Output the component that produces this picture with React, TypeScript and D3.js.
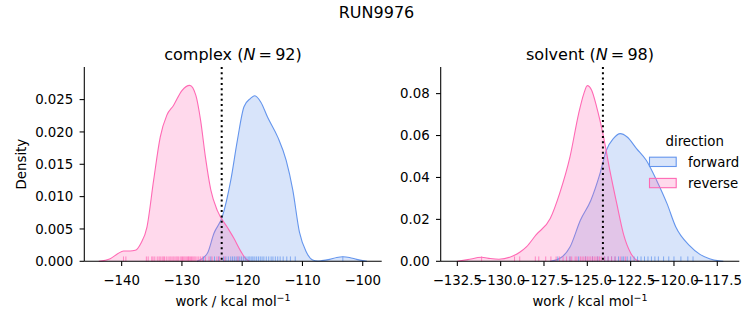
import React from "react";
import * as d3 from "d3";

// ---------- data ----------
const directions = ["forward", "reverse"];
const colors: Record<string, string> = { forward: "#6495ED", reverse: "#FF69B4" };

// complex: KDE curve samples [work, density]
const complexForwardX = [-127.5, -125.8, -124.7, -123.3, -121.9, -120.8, -119.7, -118.6, -117.9, -116.9, -115.8, -114.1, -112.7, -111.6, -110.5, -109.4, -108.3, -107.5, -106.8, -105.5, -104.3, -103.3, -102.2, -101.0, -100.0, -99.3];
const complexForwardY = [0, 0.0012, 0.0043, 0.0069, 0.0125, 0.0187, 0.0239, 0.0252, 0.0256, 0.0246, 0.0223, 0.0192, 0.0156, 0.011, 0.0045, 0.0015, 0.0002, 0.00005, 0.0001, 0.0003, 0.0006, 0.0007, 0.0006, 0.0003, 0.0001, 0];
const complexReverseX = [-143.8, -141.9, -140.6, -139.7, -138.6, -137.75, -136.8, -135.8, -134.7, -133.6, -132.5, -131.4, -130.0, -128.7, -127.7, -126.9, -126.1, -125.2, -124.1, -122.5, -121.4, -120.2, -119.5, -118.8];
const complexReverseY = [0, 0.0004, 0.0012, 0.0016, 0.0016, 0.0017, 0.0028, 0.0053, 0.0125, 0.0192, 0.0226, 0.0241, 0.0264, 0.0272, 0.0257, 0.0218, 0.0161, 0.011, 0.0078, 0.0053, 0.0036, 0.0015, 0.0005, 0];

// solvent
const solventForwardX = [-127.15, -126.6, -126.0, -125.4, -124.8, -124.27, -123.9, -123.5, -123.1, -122.7, -122.16, -121.6, -121.0, -120.4, -119.9, -119.1, -118.5, -117.95, -117.4, -117.15];
const solventForwardY = [0, 0.0013, 0.0068, 0.0196, 0.029, 0.0418, 0.053, 0.0585, 0.0609, 0.0593, 0.0538, 0.0482, 0.0386, 0.0275, 0.0165, 0.0075, 0.0033, 0.0012, 0.0002, 0];
const solventReverseX = [-132.5, -131.9, -131.1, -130.6, -130.1, -129.3, -128.9, -128.5, -127.96, -127.14, -126.6, -126.0, -125.5, -125.2, -125.0, -124.75, -124.46, -124.1, -123.7, -123.3, -122.9, -122.5, -122.2, -122.0];
const solventReverseY = [0, 0.0008, 0.0019, 0.0013, 0.001, 0.0025, 0.0043, 0.007, 0.0126, 0.0204, 0.0323, 0.0498, 0.0705, 0.08, 0.0838, 0.0816, 0.0736, 0.0609, 0.0434, 0.0275, 0.0126, 0.004, 0.0008, 0];

// rug samples
const complexForwardRug = [-126.4, -125.2, -124.6, -123.9, -123.1, -122.7, -122.3, -121.9, -121.6, -121.3, -121.0, -120.7, -120.4, -120.1, -119.8, -119.5, -119.2, -118.9, -118.7, -118.4, -118.2, -117.9, -117.6, -117.3, -117.0, -116.7, -116.4, -116.0, -115.6, -115.2, -114.9, -114.5, -114.1, -113.7, -113.2, -112.6, -112.0, -111.2, -103.3];
const complexReverseRug = [-139.7, -139.3, -135.9, -135.6, -135.0, -134.8, -134.5, -134.1, -133.8, -133.6, -133.3, -133.1, -132.9, -132.6, -132.3, -132.0, -131.8, -131.5, -131.3, -131.0, -130.8, -130.6, -130.3, -130.1, -129.9, -129.7, -129.5, -129.3, -129.1, -128.9, -128.8, -128.6, -128.4, -128.2, -128.0, -127.8, -127.5, -127.2, -126.9, -126.6, -126.1, -125.5, -125.0, -124.2, -123.8, -122.9, -120.7];
const solventForwardRug = [-126.7, -126.0, -125.5, -125.1, -124.7, -124.4, -124.0, -123.8, -123.6, -123.4, -123.2, -123.0, -122.9, -122.7, -122.5, -122.3, -122.1, -121.9, -121.7, -121.5, -121.3, -121.1, -120.9, -120.6, -120.3, -120.0, -119.6, -119.2, -118.9];
const solventReverseRug = [-131.1, -129.2, -128.9, -128.0, -127.8, -127.4, -127.1, -126.8, -126.6, -126.4, -126.2, -126.0, -125.9, -125.7, -125.6, -125.4, -125.3, -125.2, -125.1, -125.0, -124.9, -124.8, -124.7, -124.6, -124.5, -124.4, -124.3, -124.2, -124.0, -123.8, -123.6, -123.4, -123.1, -122.8];

const complexXTicks = [-140, -130, -120, -110, -100];
const complexYTicks = [0, 0.005, 0.01, 0.015, 0.02, 0.025];
const solventXTicks = [-132.5, -130, -127.5, -125, -122.5, -120, -117.5];
const solventYTicks = [0, 0.02, 0.04, 0.06, 0.08];

const complexMarker = -123.4;
const solventMarker = -124.1;

const suptitle = "RUN9976";

// ---------- layout ----------
const W = 753, H = 325;
const FONT = "DejaVu Sans, sans-serif";
const TICK_FS = 13.33;
const TITLE_FS = 16;
const TOP = 67, BOTTOM = 261.3;

const minus = (s: string) => s.replace(/-/g, "\u2212");

type PanelProps = {
  x0: number; x1: number;
  xDomain: [number, number]; yMax: number;
  xTicks: number[]; yTicks: number[];
  xFmt: (v: number) => string; yFmt: (v: number) => string;
  fwdX: number[]; fwdY: number[]; revX: number[]; revY: number[];
  fwdRug: number[]; revRug: number[];
  marker: number; name: string; n: number; showYLabel: boolean;
};

function Panel(p: PanelProps) {
  const x = d3.scaleLinear().domain(p.xDomain).range([p.x0, p.x1]);
  const y = d3.scaleLinear().domain([0, p.yMax]).range([BOTTOM, TOP]);
  const area = d3.area<[number, number]>()
    .x((d) => x(d[0])).y0(BOTTOM).y1((d) => y(d[1]))
    .curve(d3.curveMonotoneX);
  const line = d3.line<[number, number]>()
    .x((d) => x(d[0])).y((d) => y(d[1]))
    .curve(d3.curveMonotoneX);
  const series = [
    { key: "forward", pts: p.fwdX.map((v, i) => [v, p.fwdY[i]] as [number, number]), rug: p.fwdRug },
    { key: "reverse", pts: p.revX.map((v, i) => [v, p.revY[i]] as [number, number]), rug: p.revRug },
  ];
  const rugH = (BOTTOM - TOP) * 0.025;
  const cx = (p.x0 + p.x1) / 2;
  return (
    <g>
      {series.map((s) => (
        <g key={s.key}>
          <path d={area(s.pts) || ""} fill={colors[s.key]} fillOpacity={0.25} stroke="none" />
          <path d={line(s.pts) || ""} fill="none" stroke={colors[s.key]} strokeWidth={1.1} />
        </g>
      ))}
      {series.map((s) => (
        <g key={s.key + "rug"}>
          {s.rug.map((v, i) => (
            <line key={i} x1={x(v)} x2={x(v)} y1={BOTTOM} y2={BOTTOM - rugH}
              stroke={colors[s.key]} strokeWidth={1} strokeOpacity={0.75} />
          ))}
        </g>
      ))}
      <line x1={x(p.marker)} x2={x(p.marker)} y1={TOP} y2={BOTTOM}
        stroke="#000" strokeWidth={2} strokeDasharray="2 3.3" />
      {/* spines */}
      <line x1={p.x0} x2={p.x0} y1={TOP} y2={BOTTOM} stroke="#000" strokeWidth={1.07} />
      <line x1={p.x0} x2={p.x1} y1={BOTTOM} y2={BOTTOM} stroke="#000" strokeWidth={1.07} />
      {p.xTicks.map((t) => (
        <g key={"x" + t}>
          <line x1={x(t)} x2={x(t)} y1={BOTTOM} y2={BOTTOM + 4.7} stroke="#000" strokeWidth={1.07} />
          <text x={x(t)} y={285} textAnchor="middle" fontSize={TICK_FS} fontFamily={FONT} fill="#000">
            {minus(p.xFmt(t))}
          </text>
        </g>
      ))}
      {p.yTicks.map((t) => (
        <g key={"y" + t}>
          <line x1={p.x0 - 4.7} x2={p.x0} y1={y(t)} y2={y(t)} stroke="#000" strokeWidth={1.07} />
          <text x={p.x0 - 11} y={y(t)} dy="0.36em" textAnchor="end" fontSize={TICK_FS} fontFamily={FONT} fill="#000">
            {minus(p.yFmt(t))}
          </text>
        </g>
      ))}
      <text x={cx} y={306} textAnchor="middle" fontSize={TICK_FS} fontFamily={FONT} fill="#000">
        work / kcal mol<tspan dy={-5} fontSize={9.5}>{"\u22121"}</tspan>
      </text>
      {p.showYLabel && (
        <text transform={`translate(25.5, ${(TOP + BOTTOM) / 2}) rotate(-90)`} textAnchor="middle"
          fontSize={TICK_FS} fontFamily={FONT} fill="#000">Density</text>
      )}
      <text x={cx} y={60} textAnchor="middle" fontSize={TITLE_FS} fontFamily={FONT} fill="#000">
        {p.name} (<tspan fontStyle="italic">N</tspan>{"\u2009=\u200992".replace("92", String(p.n))})
      </text>
    </g>
  );
}

export default function App() {
  const fmtInt = (v: number) => d3.format("d")(v);
  return (
    <svg width={W} height={H} style={{ display: "block", position: "absolute", left: 0, top: 0 }}
      fontFamily={FONT}>
      <rect width={W} height={H} fill="#fff" />
      <text x={376.5} y={18.3} textAnchor="middle" fontSize={TITLE_FS} fontFamily={FONT} fill="#000">{suptitle}</text>
      <Panel x0={84.3} x1={381.7} xDomain={[-146.2, -96.85]} yMax={0.03004}
        xTicks={complexXTicks} yTicks={complexYTicks}
        xFmt={fmtInt} yFmt={d3.format(".3f")}
        fwdX={complexForwardX} fwdY={complexForwardY} revX={complexReverseX} revY={complexReverseY}
        fwdRug={complexForwardRug} revRug={complexReverseRug}
        marker={complexMarker} name="complex" n={92} showYLabel={true} />
      <Panel x0={440.7} x1={739.3} xDomain={[-133.46, -116.23]} yMax={0.0927}
        xTicks={solventXTicks} yTicks={solventYTicks}
        xFmt={d3.format(".1f")} yFmt={d3.format(".2f")}
        fwdX={solventForwardX} fwdY={solventForwardY} revX={solventReverseX} revY={solventReverseY}
        fwdRug={solventForwardRug} revRug={solventReverseRug}
        marker={solventMarker} name="solvent" n={98} showYLabel={false} />
      {/* legend */}
      <text x={694.7} y={146} textAnchor="middle" fontSize={TICK_FS} fontFamily={FONT} fill="#000">direction</text>
      {directions.map((d, i) => (
        <g key={d}>
          <rect x={649.5} y={157.2 + i * 21.2} width={26.7} height={9.3}
            fill={colors[d]} fillOpacity={0.25} stroke={colors[d]} strokeWidth={1.1} />
          <text x={688} y={166.5 + i * 21.2} fontSize={TICK_FS} fontFamily={FONT} fill="#000">{d}</text>
        </g>
      ))}
    </svg>
  );
}
